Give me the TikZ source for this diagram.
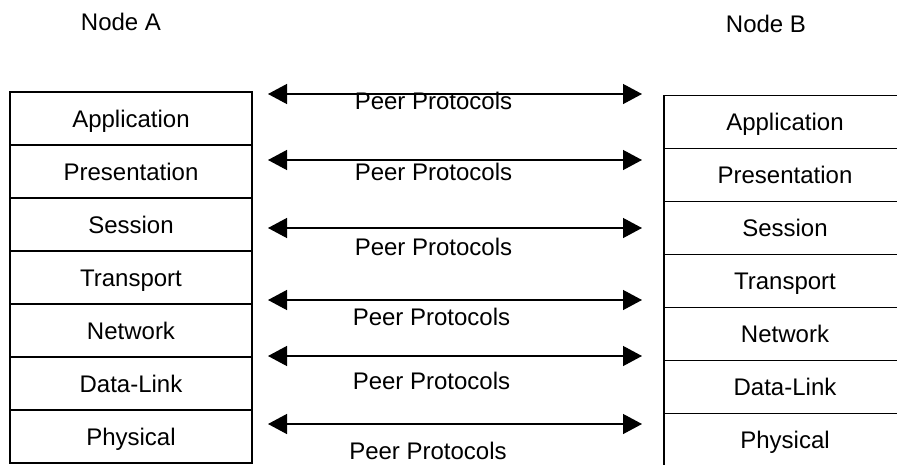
\documentclass[tikz,border=0pt]{standalone}
\usepackage{fontspec}
\setmainfont{Liberation Sans}
\usetikzlibrary{arrows.meta}
\begin{document}
\begin{tikzpicture}[x=1pt,y=-1pt,
  lbl/.style={inner sep=0pt, text height=17.2pt, text depth=0pt, font=\fontsize{24}{28}\selectfont},
  layer/.style={lbl, draw=black, line width=1.2pt, minimum width=242pt, minimum height=53pt, fill=white},
  peer/.style={line width=1.3pt, {Triangle[length=19pt,width=20pt]}-{Triangle[length=19pt,width=20pt]}}
]
\clip (0,0) rectangle (897,464);
\fill[white] (0,0) rectangle (897,464);
\node[lbl] (na) at (121,22) {Node A};
\node[lbl] (nb) at (766,24) {Node B};
% left stack
\node[layer] (la1) at (131,118.5) {Application};
\node[layer] (la2) at (131,171.5) {Presentation};
\node[layer] (la3) at (131,224.5) {Session};
\node[layer] (la4) at (131,277.5) {Transport};
\node[layer] (la5) at (131,330.5) {Network};
\node[layer] (la6) at (131,383.5) {Data-Link};
\node[layer] (la7) at (131,436.5) {Physical};
% right stack
\node[layer] (lb1) at (785,122) {Application};
\node[layer] (lb2) at (785,175) {Presentation};
\node[layer] (lb3) at (785,228) {Session};
\node[layer] (lb4) at (785,281) {Transport};
\node[layer] (lb5) at (785,334) {Network};
\node[layer] (lb6) at (785,387) {Data-Link};
\node[layer] (lb7) at (785,440) {Physical};
% arrows
\foreach \i/\y in {1/94,2/160,3/228,4/300,5/356,6/424}{
  \coordinate (pl\i) at (268,\y);
  \coordinate (pr\i) at (642,\y);
  \draw[peer] (pl\i) -- (pr\i);
}
\node[lbl] (t1) at (433.5,101) {Peer Protocols};
\node[lbl] (t2) at (433.5,171.5) {Peer Protocols};
\node[lbl] (t3) at (433.5,246.5) {Peer Protocols};
\node[lbl] (t4) at (431.5,317) {Peer Protocols};
\node[lbl] (t5) at (431.5,381) {Peer Protocols};
\node[lbl] (t6) at (428,451) {Peer Protocols};
\end{tikzpicture}
\end{document}
